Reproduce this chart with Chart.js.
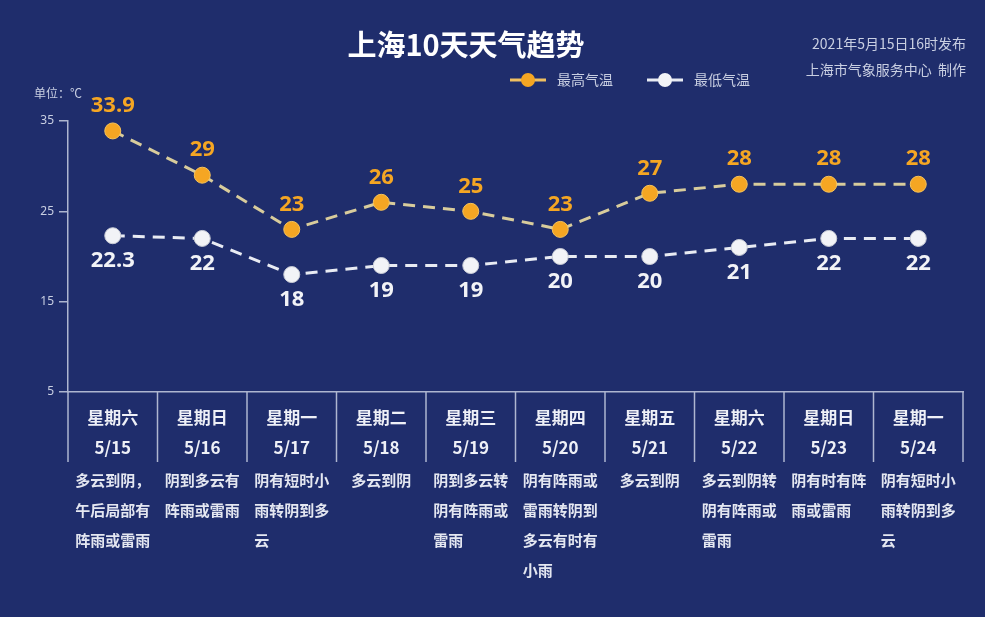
<!DOCTYPE html>
<html>
<head>
<meta charset="utf-8">
<script src="https://cdn.jsdelivr.net/npm/chart.js@4"></script>
<style>
  html, body { margin: 0; padding: 0; background: #1f2d6c; }
  #wrap { width: 985px; height: 617px; }
</style>
</head>
<body>
<div id="wrap"><canvas id="weatherChart"></canvas></div>
<script>
// Chart data
const weekdays = ['星期六', '星期日', '星期一', '星期二', '星期三', '星期四', '星期五', '星期六', '星期日', '星期一'];
const dates = ['5/15', '5/16', '5/17', '5/18', '5/19', '5/20', '5/21', '5/22', '5/23', '5/24'];
const highTemps = [33.9, 29, 23, 26, 25, 23, 27, 28, 28, 28];
const lowTemps = [22.3, 22, 18, 19, 19, 20, 20, 21, 22, 22];
const yTicks = [5, 15, 25, 35];
const descriptions = [
    '多云到阴，午后局部有阵雨或雷雨',
    '阴到多云有阵雨或雷雨',
    '阴有短时小雨转阴到多云',
    '多云到阴',
    '阴到多云转阴有阵雨或雷雨',
    '阴有阵雨或雷雨转阴到多云有时有小雨',
    '多云到阴',
    '多云到阴转阴有阵雨或雷雨',
    '阴有时有阵雨或雷雨',
    '阴有短时小雨转阴到多云'
];

const CJK = '"Noto Sans CJK SC", "Noto Sans", sans-serif';
const ORANGE = '#f5a623';
const WHITE = '#f2f3f7';

// Split a description into lines of 5 characters
function wrapText(text, n) {
    const chars = Array.from(text);
    const lines = [];
    for (let i = 0; i < chars.length; i += n) {
        lines.push(chars.slice(i, i + n).join(''));
    }
    return lines;
}

// Title, notes, legend, value labels, day boxes
const decorPlugin = {
    id: 'decor',
    afterDraw(chart) {
        const ctx = chart.ctx;
        const x = chart.scales.x;
        const area = chart.chartArea;
        ctx.save();

        // title
        ctx.fillStyle = '#ffffff';
        ctx.font = 'bold 29px ' + CJK;
        ctx.textAlign = 'center';
        ctx.textBaseline = 'middle';
        ctx.fillText('上海10天天气趋势', 466, 45);

        // publisher notes
        ctx.fillStyle = '#c9cfe2';
        ctx.font = '14px ' + CJK;
        ctx.textAlign = 'right';
        ctx.fillText('2021年5月15日16时发布', 966, 44);
        ctx.fillText('上海市气象服务中心  制作', 966, 70);

        // unit
        ctx.font = '12px ' + CJK;
        ctx.textAlign = 'left';
        ctx.fillText('单位：℃', 34, 93);

        // legend
        const legend = [
            { label: '最高气温', fill: ORANGE, line: '#f0c060', x: 510 },
            { label: '最低气温', fill: WHITE, line: '#e8ebf3', x: 647 }
        ];
        legend.forEach(item => {
            ctx.strokeStyle = item.line;
            ctx.lineWidth = 3;
            ctx.beginPath();
            ctx.moveTo(item.x, 80);
            ctx.lineTo(item.x + 36, 80);
            ctx.stroke();
            ctx.fillStyle = item.fill;
            ctx.beginPath();
            ctx.arc(item.x + 18, 80, 7, 0, Math.PI * 2);
            ctx.fill();
            ctx.fillStyle = '#c9cfe2';
            ctx.font = '14px ' + CJK;
            ctx.textAlign = 'left';
            ctx.fillText(item.label, item.x + 47, 80);
        });

        // value labels
        ctx.font = 'bold 22px "Noto Sans", sans-serif';
        ctx.textAlign = 'center';
        chart.getDatasetMeta(0).data.forEach((pt, i) => {
            ctx.fillStyle = ORANGE;
            ctx.fillText(String(highTemps[i]), pt.x, pt.y - 25);
        });
        chart.getDatasetMeta(1).data.forEach((pt, i) => {
            ctx.fillStyle = WHITE;
            ctx.fillText(String(lowTemps[i]), pt.x, pt.y + 25);
        });

        // box dividers below the axis
        const step = x.getPixelForValue(1) - x.getPixelForValue(0);
        ctx.strokeStyle = '#aeb6d0';
        ctx.lineWidth = 1.5;
        for (let i = 0; i <= dates.length; i++) {
            const px = x.getPixelForValue(0) - step / 2 + i * step;
            ctx.beginPath();
            ctx.moveTo(px, area.bottom);
            ctx.lineTo(px, area.bottom + 70);
            ctx.stroke();
        }

        // weather descriptions
        ctx.fillStyle = '#e4e7f1';
        ctx.font = 'bold 15px ' + CJK;
        ctx.textAlign = 'left';
        descriptions.forEach((d, i) => {
            const lines = wrapText(d, 5);
            const w = Math.max(...lines.map(l => ctx.measureText(l).width));
            const left = x.getPixelForValue(i) - w / 2;
            lines.forEach((l, j) => {
                ctx.fillText(l, left, area.bottom + 88 + j * 30);
            });
        });
        ctx.restore();
    }
};

const chart = new Chart(document.getElementById('weatherChart'), {
    type: 'line',
    data: {
        labels: weekdays.map((w, i) => [w, dates[i]]),
        datasets: [
            {
                label: '最高气温',
                data: highTemps,
                borderColor: '#d8cc9c',
                borderWidth: 3,
                borderDash: [12, 8],
                pointRadius: 8,
                pointBackgroundColor: ORANGE,
                pointBorderColor: '#f7c35a',
                pointBorderWidth: 1,
                tension: 0
            },
            {
                label: '最低气温',
                data: lowTemps,
                borderColor: '#e8ebf3',
                borderWidth: 3,
                borderDash: [12, 8],
                pointRadius: 8,
                pointBackgroundColor: WHITE,
                pointBorderColor: '#c9ccd6',
                pointBorderWidth: 1,
                tension: 0
            }
        ]
    },
    options: {
        responsive: true,
        maintainAspectRatio: false,
        animation: false,
        layout: {
            padding: { top: 121, right: 22, left: 0, bottom: 0 }
        },
        plugins: {
            legend: { display: false },
            tooltip: { enabled: false }
        },
        scales: {
            x: {
                offset: true,
                afterFit: function(scale) { scale.height = 225; },
                grid: { display: false, drawTicks: false },
                border: { display: true, color: '#aeb6d0', width: 1.5 },
                ticks: {
                    color: '#eef0f7',
                    padding: 11,
                    autoSkip: false,
                    maxRotation: 0,
                    font: { family: CJK, size: 17, weight: 'bold', lineHeight: '30px' }
                }
            },
            y: {
                min: 5,
                max: 35,
                afterFit: function(scale) { scale.width = 68; },
                afterBuildTicks: function(scale) {
                    scale.ticks = yTicks.map(v => ({ value: v }));
                },
                grid: {
                    drawOnChartArea: false,
                    tickLength: 9,
                    color: '#aeb6d0',
                    lineWidth: 1.5
                },
                border: { display: true, color: '#aeb6d0', width: 1.5 },
                ticks: {
                    color: '#c9cfe2',
                    padding: 5,
                    font: { family: '"Noto Sans", sans-serif', size: 12 }
                }
            }
        }
    },
    plugins: [decorPlugin]
});
</script>
</body>
</html>
